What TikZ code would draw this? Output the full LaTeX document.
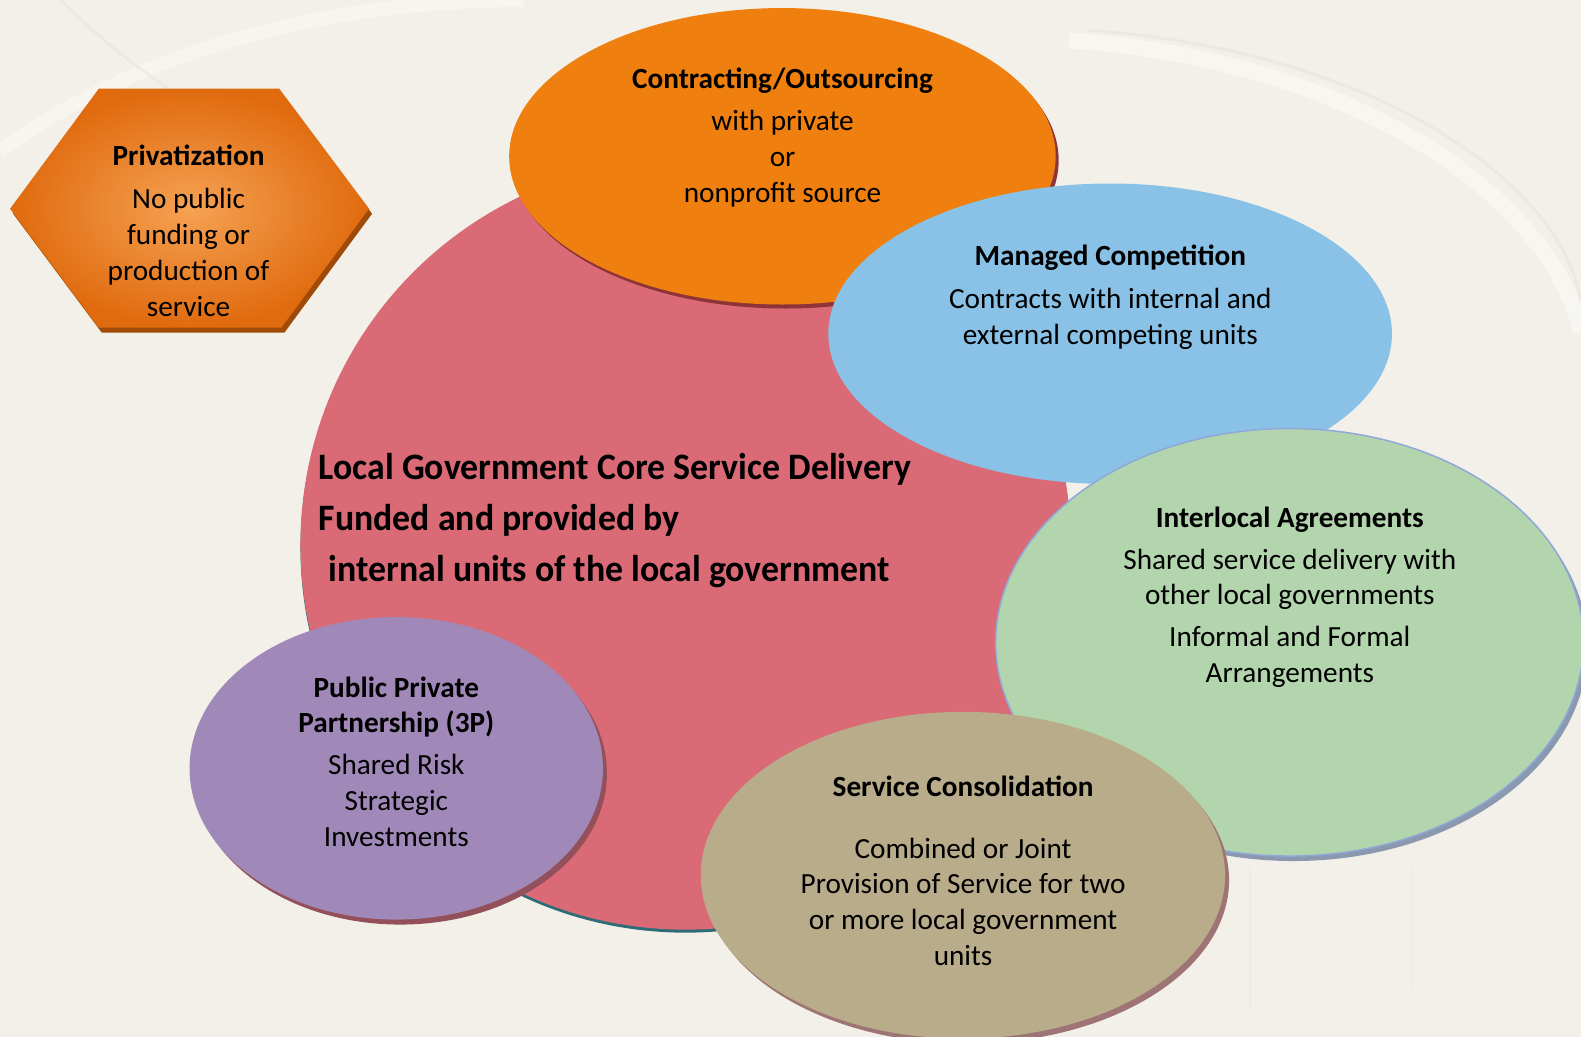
\documentclass[tikz,border=0pt]{standalone}
\usepackage{fontspec}
\setmainfont{Carlito}
\newfontfamily\corefont[FakeStretch=0.96]{Carlito}
\usepackage{tikz}
\usetikzlibrary{shapes.geometric, shadows, positioning}

\definecolor{bgcream}{HTML}{F2F0E9}
\definecolor{bgline}{HTML}{E2DFD6}
\definecolor{corered}{HTML}{D96A76}
\definecolor{coreedge}{HTML}{2E6D78}
\definecolor{hexlight}{HTML}{F5A253}
\definecolor{hexdark}{HTML}{E06A0E}
\definecolor{hexedge}{HTML}{A04A08}
\definecolor{outorange}{HTML}{EF7F0E}
\definecolor{outshadow}{HTML}{8E3438}
\definecolor{mgdblue}{HTML}{89C2E6}
\definecolor{ilagreen}{HTML}{B3D5AD}
\definecolor{ilaborder}{HTML}{8FA8D8}
\definecolor{ilashadow}{HTML}{8A98B0}
\definecolor{contan}{HTML}{B9AC8B}
\definecolor{conshadow}{HTML}{9E7474}
\definecolor{pppurple}{HTML}{A089B8}
\definecolor{pppshadow}{HTML}{94505A}

\tikzstyle{bubble} = [ellipse, inner sep=0pt]
\tikzstyle{bubbletext} = [align=center, inner sep=0pt, anchor=north, font=\fontsize{29}{35.5}\selectfont]

\begin{document}
\begin{tikzpicture}[x=1pt, y=-1pt, scale=1.0083, every node/.append style={transform shape}]

   % Page background with faint arches
   \fill[bgcream] (0,0) rectangle (1568,1028.4);
   \useasboundingbox (0,0) rectangle (1568,1028.4);
   \draw[white, line width=14pt, opacity=0.35] (0,150) .. controls (150,40) and (350,0) .. (520,0);
   \draw[bgline, line width=3pt, opacity=0.4] (60,0) .. controls (100,40) and (140,70) .. (170,90);
   \draw[white, line width=16pt, opacity=0.4] (1060,40) .. controls (1350,60) and (1540,200) .. (1568,330);
   \draw[bgline, line width=3pt, opacity=0.4] (1080,30) .. controls (1360,50) and (1550,180) .. (1568,300);
   \draw[bgline, line width=2pt, opacity=0.25] (1240,860) -- (1240,1000);
   \draw[bgline, line width=2pt, opacity=0.25] (1400,860) -- (1400,980);

   % Core service circle
   \node (core) [circle, minimum size=764pt, inner sep=0pt, fill=corered,
      drop shadow={shadow xshift=0pt, shadow yshift=-3pt, fill=coreedge, opacity=1}] at (680,540) {};
   \node (coretext) [anchor=north west, align=left, inner sep=0pt,
      font=\corefont\bfseries\fontsize{37}{51}\selectfont] at (316,449)
      {Local Government Core Service Delivery\\Funded and provided by\\\hspace{10pt}internal units of the local government};

   % Privatization hexagon
   \fill[hexedge] (13,212) -- (101,93) -- (280,93) -- (369,212) -- (282,330) -- (101,330) -- cycle;
   \shade[inner color=hexlight, outer color=hexdark] (10,207) -- (98,88) -- (277,88) -- (366,207) -- (279,325) -- (98,325) -- cycle;
   \node (privat) [bubbletext] at (187,144)
      {\textbf{Privatization}\\[7pt]No public\\funding or\\production of\\service};

   % Contracting / outsourcing
   \node (contract) [bubble, minimum width=542pt, minimum height=294pt, fill=outorange,
      drop shadow={shadow xshift=3pt, shadow yshift=-4pt, fill=outshadow, opacity=1}] at (776,155) {};
   \node (contracttext) [bubbletext, below=59pt of contract.north]
      {\textbf{Contracting/Outsourcing}\\[7pt]with private\\or\\nonprofit source};

   % Managed competition
   \node (managed) [bubble, minimum width=559pt, minimum height=298pt, fill=mgdblue] at (1101,331) {};
   \node (managedtext) [bubbletext, below=61pt of managed.north]
      {\textbf{Managed Competition}\\[7pt]Contracts with internal and\\external competing units};

   % Interlocal agreements
   \node (interlocal) [bubble, minimum width=583pt, minimum height=424pt, fill=ilagreen,
      draw=ilaborder, line width=1.5pt,
      drop shadow={shadow xshift=4pt, shadow yshift=-5pt, fill=ilashadow, opacity=1}] at (1279,637) {};
   \node (interlocaltext) [bubbletext, below=78pt of interlocal.north]
      {\textbf{Interlocal Agreements}\\[6pt]Shared service delivery with\\other local governments\\[6pt]Informal and Formal\\Arrangements};

   % Service consolidation
   \node (consol) [bubble, minimum width=520pt, minimum height=324pt, fill=contan,
      drop shadow={shadow xshift=4pt, shadow yshift=-5pt, fill=conshadow, opacity=1}] at (955,868) {};
   \node (consoltext) [bubbletext, below=63pt of consol.north]
      {\textbf{Service Consolidation}\\[26pt]Combined or Joint\\Provision of Service for two\\or more local government\\units};

   % Public private partnership
   \node (ppp) [bubble, minimum width=410pt, minimum height=300pt, fill=pppurple,
      drop shadow={shadow xshift=4pt, shadow yshift=-5pt, fill=pppshadow, opacity=1}] at (393,762) {};
   \node (ppptext) [bubbletext, below=59pt of ppp.north]
      {\textbf{Public Private}\\\textbf{Partnership (3P)}\\[6pt]Shared Risk\\Strategic\\Investments};

\end{tikzpicture}
\end{document}
